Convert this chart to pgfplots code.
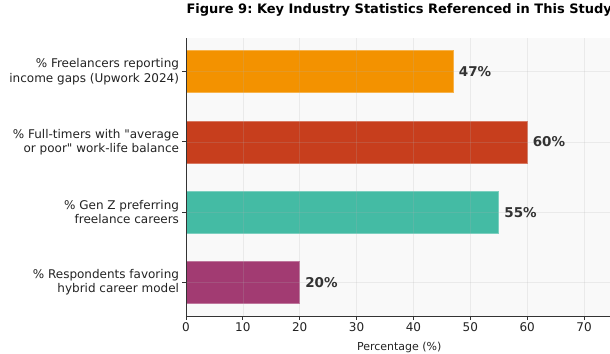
\documentclass[border=0pt]{standalone}
\usepackage{fontspec}
\setmainfont{DejaVu Sans}
\usepackage{pgfplots}
\pgfplotsset{compat=1.18}
\definecolor{cOrange}{HTML}{F39200}
\definecolor{cRed}{HTML}{C73E1D}
\definecolor{cTeal}{HTML}{44BBA4}
\definecolor{cMag}{HTML}{A23B72}
\definecolor{bgcol}{HTML}{F9F9F9}
\definecolor{txt}{HTML}{333333}
\definecolor{lbl}{HTML}{222222}
\definecolor{gridc}{HTML}{B0B0B0}
\frenchspacing
\begin{document}
\begin{tikzpicture}
\useasboundingbox (-186bp,-38bp) rectangle (424bp,316bp);
\clip (-186bp,-38bp) rectangle (424bp,316bp);
\begin{axis}[
  scale only axis,
  width=426.5bp, height=278bp,
  xmin=0, xmax=75, ymin=-0.48, ymax=3.48,
  xbar, bar width=42bp, bar shift=0pt,
  /pgf/number format/assume math mode=true,
  axis background/.style={fill=bgcol},
  axis x line*=bottom, axis y line*=left,
  axis line style={draw=txt, line width=0.9bp},
  axis on top,
  grid=major,
  major grid style={draw=gridc, opacity=0.2, line width=0.7bp},
  tick align=outside,
  major tick length=3.5bp,
  tick style={draw=txt, line width=0.8bp},
  xtick={0,10,...,70},
  ytick={0,1,2,3},
  yticklabels={{\% Respondents favoring\\hybrid career model},
               {\% Gen Z preferring\\freelance careers},
               {\% Full-timers with \textquotedbl average\\or poor\textquotedbl{} work-life balance},
               {\% Freelancers reporting\\income gaps (Upwork 2024)}},
  yticklabel style={align=right, font=\fontsize{12bp}{14.2bp}\selectfont, text=lbl},
  xticklabel style={font=\fontsize{12bp}{14bp}\selectfont, text=lbl},
  xlabel={Percentage (\%)},
  xlabel style={font=\fontsize{11bp}{13bp}\selectfont, text=lbl, yshift=-3bp},
  title={Figure 9: Key Industry Statistics Referenced in This Study},
  title style={at={(0.5,1)}, anchor=base, yshift=18.5bp,
               font=\fontsize{13bp}{15bp}\selectfont\bfseries, text=black},
  point meta=x,
  nodes near coords={\pgfmathprintnumber{\pgfplotspointmeta}\%},
  nodes near coords style={anchor=west, xshift=2bp,
               font=\fontsize{13.5bp}{15bp}\selectfont\bfseries, text=txt},
]
\addplot[fill=cMag, draw=cMag!70!white, line width=0.6bp] coordinates {(20,0)};
\addplot[fill=cTeal, draw=cTeal!70!white, line width=0.6bp] coordinates {(55,1)};
\addplot[fill=cRed, draw=cRed!70!white, line width=0.6bp] coordinates {(60,2)};
\addplot[fill=cOrange, draw=cOrange!70!white, line width=0.6bp] coordinates {(47,3)};
\end{axis}
\end{tikzpicture}
\end{document}
